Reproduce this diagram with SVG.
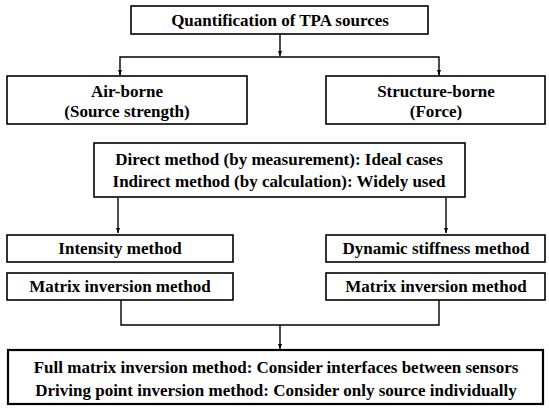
<svg xmlns="http://www.w3.org/2000/svg" width="549" height="408" viewBox="0 0 549 408">
<defs>
<marker id="ah" viewBox="0 0 10 10" refX="10" refY="5" markerWidth="5" markerHeight="5" orient="auto" markerUnits="userSpaceOnUse">
<path d="M0,1 L10,5 L0,9 z" fill="#000"/>
</marker>
</defs>
<rect width="549" height="408" fill="#fff"/>
<g id="connectors" fill="none" stroke="#000" stroke-width="1.4">
<path d="M280,34 V56" marker-end="url(#ah)"/>
<path d="M120,75 V57 H439 V75"/>
<path d="M120,70 V75" marker-end="url(#ah)"/>
<path d="M439,70 V75" marker-end="url(#ah)"/>
<path d="M118,198 V233" marker-end="url(#ah)"/>
<path d="M446,198 V233" marker-end="url(#ah)"/>
<path d="M121,300 V325 H439 V300"/>
<path d="M280,325 V349" marker-end="url(#ah)"/>
</g>
<g id="n_quant"><rect x="131" y="6" width="297" height="28" fill="#fff" stroke="#000" stroke-width="1.6"/><text x="280" y="26" text-anchor="middle" font-family="'Liberation Serif', 'Times New Roman', serif" font-weight="bold" font-size="17">Quantification of TPA sources</text></g>
<g id="n_air"><rect x="7" y="76" width="240" height="48" fill="#fff" stroke="#000" stroke-width="1.6"/><text x="127" y="97" text-anchor="middle" font-family="'Liberation Serif', 'Times New Roman', serif" font-weight="bold" font-size="17">Air-borne</text><text x="127" y="117" text-anchor="middle" font-family="'Liberation Serif', 'Times New Roman', serif" font-weight="bold" font-size="17">(Source strength)</text></g>
<g id="n_struct"><rect x="326" y="76" width="219" height="48" fill="#fff" stroke="#000" stroke-width="1.6"/><text x="436" y="97" text-anchor="middle" font-family="'Liberation Serif', 'Times New Roman', serif" font-weight="bold" font-size="17">Structure-borne</text><text x="436" y="117" text-anchor="middle" font-family="'Liberation Serif', 'Times New Roman', serif" font-weight="bold" font-size="17">(Force)</text></g>
<g id="n_method"><rect x="94" y="143" width="371" height="54" fill="#fff" stroke="#000" stroke-width="1.6"/><text x="279" y="165" text-anchor="middle" font-family="'Liberation Serif', 'Times New Roman', serif" font-weight="bold" font-size="17">Direct method (by measurement): Ideal cases</text><text x="279" y="187" text-anchor="middle" font-family="'Liberation Serif', 'Times New Roman', serif" font-weight="bold" font-size="17">Indirect method (by calculation): Widely used</text></g>
<g id="n_intensity"><rect x="7" y="235" width="226" height="27" fill="#fff" stroke="#000" stroke-width="1.6"/><text x="120" y="254" text-anchor="middle" font-family="'Liberation Serif', 'Times New Roman', serif" font-weight="bold" font-size="17">Intensity method</text></g>
<g id="n_matrix_l"><rect x="7" y="273" width="226" height="27" fill="#fff" stroke="#000" stroke-width="1.6"/><text x="120" y="292" text-anchor="middle" font-family="'Liberation Serif', 'Times New Roman', serif" font-weight="bold" font-size="17">Matrix inversion method</text></g>
<g id="n_dynamic"><rect x="326" y="235" width="219" height="27" fill="#fff" stroke="#000" stroke-width="1.6"/><text x="436" y="254" text-anchor="middle" font-family="'Liberation Serif', 'Times New Roman', serif" font-weight="bold" font-size="17">Dynamic stiffness method</text></g>
<g id="n_matrix_r"><rect x="326" y="273" width="219" height="27" fill="#fff" stroke="#000" stroke-width="1.6"/><text x="436" y="292" text-anchor="middle" font-family="'Liberation Serif', 'Times New Roman', serif" font-weight="bold" font-size="17">Matrix inversion method</text></g>
<g id="n_bottom"><rect x="8" y="350" width="535" height="54" fill="#fff" stroke="#000" stroke-width="2.2"/><text x="276" y="373" text-anchor="middle" font-family="'Liberation Serif', 'Times New Roman', serif" font-weight="bold" font-size="17">Full matrix inversion method: Consider interfaces between sensors</text><text x="276" y="396" text-anchor="middle" font-family="'Liberation Serif', 'Times New Roman', serif" font-weight="bold" font-size="17">Driving point inversion method: Consider only source individually</text></g>
</svg>
